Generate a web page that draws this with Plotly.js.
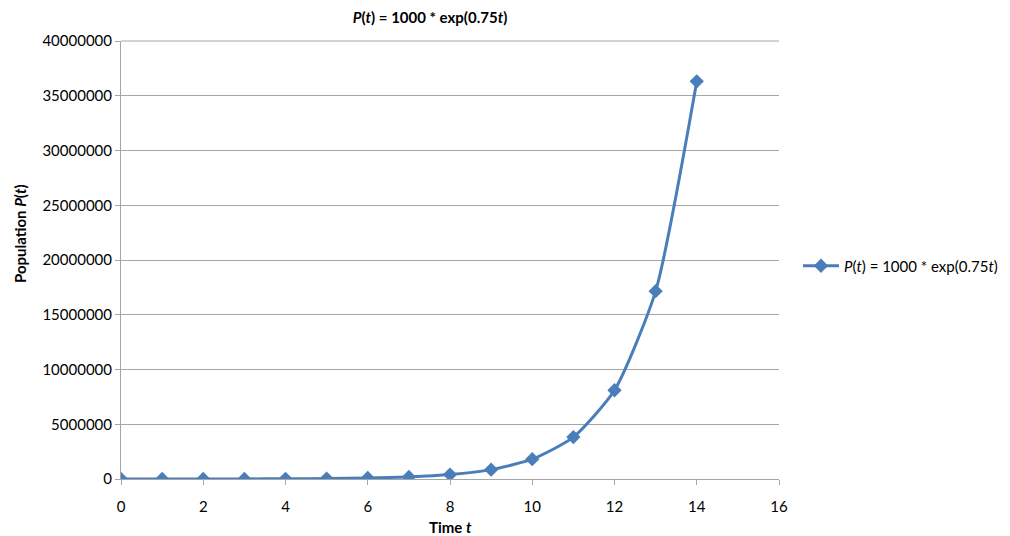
<!DOCTYPE html>
<html>
<head>
<meta charset="utf-8">
<script src="https://cdn.plot.ly/plotly-3.0.1.min.js"></script>
<style>html,body{margin:0;padding:0;background:#fff;}#chart{width:1010px;height:536px;}</style>
</head>
<body>
<div id="chart"></div>
<script>
// Data
const timeValues = [0, 1, 2, 3, 4, 5, 6, 7, 8, 9, 10, 11, 12, 13, 14];
const populationValues = [1000, 2117, 4482, 9488, 20086, 42521, 90017, 190566, 403429, 854059, 1808042, 3827626, 8103084, 17154229, 36315503];
const yTickValues = [0, 5000000, 10000000, 15000000, 20000000, 25000000, 30000000, 35000000, 40000000];
const yTickLabels = ["0", "5000000", "10000000", "15000000", "20000000", "25000000", "30000000", "35000000", "40000000"];
const xTickValues = [0, 2, 4, 6, 8, 10, 12, 14, 16];
const seriesName = "<i>P</i>(<i>t</i>) = 1000 * exp(0.75<i>t</i>)";
const chartTitle = "<b><i>P</i>(<i>t</i>) = 1000 * exp(0.75<i>t</i>)</b>";
const xTitle = "<b>Time <i>t</i></b>";
const yTitle = "<b>Population <i>P</i>(<i>t</i>)</b>";

const FONT = "Lato, 'Open Sans', sans-serif";
const blue = "#4a7ebb";
const grid = "#a6a6a6";
const W = 1010, H = 536;

const trace = {
  x: timeValues,
  y: populationValues,
  name: seriesName,
  type: "scatter",
  mode: "lines+markers",
  line: {color: blue, width: 3, shape: "spline", smoothing: 0.6},
  marker: {symbol: "diamond", size: 11, color: blue},
  showlegend: true
};

const layout = {
  width: W,
  height: H,
  margin: {l: 121, r: 231, t: 41, b: 57, pad: 0},
  paper_bgcolor: "#fff",
  plot_bgcolor: "#fff",
  font: {family: FONT, size: 15, color: "#000"},
  title: {
    text: chartTitle,
    font: {family: FONT, size: 15, color: "#000"},
    x: 430 / W, xanchor: "center", xref: "container",
    y: 1 - 18 / H, yanchor: "middle", yref: "container"
  },
  xaxis: {
    range: [0, 16],
    tickvals: xTickValues,
    ticktext: xTickValues.map(String),
    showgrid: false,
    zeroline: false,
    showline: true,
    linecolor: grid,
    linewidth: 1,
    ticks: "outside",
    ticklen: 5,
    tickcolor: grid,
    ticklabelstandoff: 9,
    tickfont: {family: FONT, size: 15, color: "#000"}
  },
  yaxis: {
    range: [0, 40000000],
    tickvals: yTickValues,
    ticktext: yTickLabels,
    showgrid: true,
    gridcolor: grid,
    gridwidth: 1,
    zeroline: false,
    showline: true,
    linecolor: grid,
    linewidth: 1,
    ticks: "outside",
    ticklen: 5,
    tickcolor: grid,
    tickfont: {family: FONT, size: 15, color: "#000"}
  },
  annotations: [
    {
      text: xTitle, showarrow: false,
      xref: "paper", x: 0.5, xanchor: "center",
      yref: "paper", y: -(527 - 479) / (H - 41 - 57), yanchor: "middle",
      font: {family: FONT, size: 15, color: "#000"}
    },
    {
      text: yTitle, showarrow: false, textangle: -90,
      xref: "paper", x: (20 - 121) / (W - 121 - 231), xanchor: "center",
      yref: "paper", y: (479 - 234) / (H - 41 - 57), yanchor: "middle",
      font: {family: FONT, size: 15, color: "#000"}
    }
  ],
  shapes: [{
    type: "line", xref: "paper", yref: "paper", x0: 0, x1: 1, y0: 1, y1: 1,
    line: {color: grid, width: 1}
  }],
  showlegend: true,
  legend: {
    xref: "container", yref: "container",
    x: 798 / W, xanchor: "left",
    y: 1 - 266 / H, yanchor: "middle",
    font: {family: FONT, size: 15, color: "#000"},
    bgcolor: "rgba(0,0,0,0)",
    itemwidth: 36
  }
};

Plotly.newPlot("chart", [trace], layout, {displayModeBar: false, staticPlot: true});
</script>
</body>
</html>
